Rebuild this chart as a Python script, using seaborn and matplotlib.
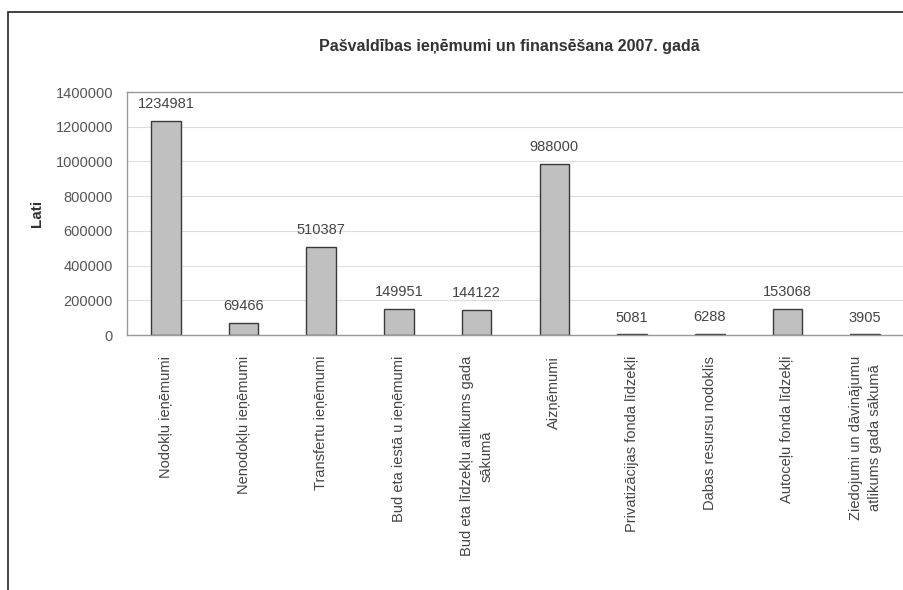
import matplotlib
matplotlib.use("Agg")
import matplotlib.pyplot as plt
import seaborn as sns
import pandas as pd
from matplotlib.patches import Rectangle
from matplotlib.ticker import FuncFormatter

categories = [
    "Nodokļu ieņēmumi",
    "Nenodokļu ieņēmumi",
    "Transfertu ieņēmumi",
    "Bud eta iestā u ieņēmumi",
    "Bud eta līdzekļu atlikums gada\nsākumā",
    "Aizņēmumi",
    "Privatizācijas fonda līdzekļi",
    "Dabas resursu nodoklis",
    "Autoceļu fonda līdzekļi",
    "Ziedojumi un dāvinājumu\natlikums gada sākumā",
]
values = [1234981, 69466, 510387, 149951, 144122, 988000, 5081, 6288, 153068, 3905]
y_ticks = [0, 200000, 400000, 600000, 800000, 1000000, 1200000, 1400000]

sns.set_style("white")
plt.rcParams['font.family'] = ['Liberation Sans', 'DejaVu Sans']

df = pd.DataFrame({'category': categories, 'value': values})

fig = plt.figure(figsize=(9.04, 5.90), dpi=100)
ax = fig.add_axes([0.1405, 0.432, 0.8595, 0.412])

sns.barplot(data=df, x='category', y='value', color='#c0c0c0',
            edgecolor='#3a3a3a', linewidth=1.0, width=0.38,
            saturation=1, ax=ax)

ax.set_xlim(-0.5, len(categories) - 0.5)
ax.set_ylim(0, 1400000)
ax.set_yticks(y_ticks)
ax.yaxis.set_major_formatter(FuncFormatter(lambda v, p: f"{int(v)}"))
ax.grid(axis='y', color='#dddddd', linewidth=0.8)
ax.set_axisbelow(True)

for side in ['top', 'left', 'bottom']:
    ax.spines[side].set_color('#999999')
    ax.spines[side].set_linewidth(1.0)
ax.spines['right'].set_visible(False)

ax.tick_params(axis='y', labelsize=10.5, colors='#555555', length=0, pad=10)
ax.tick_params(axis='x', labelsize=10.5, colors='#444444', length=0, pad=15)
plt.setp(ax.get_xticklabels(), rotation=90, ha='center', va='top',
         multialignment='center', linespacing=1.45)

for i, v in enumerate(values):
    ax.annotate(f"{v}", (i, v), xytext=(0, 7), textcoords='offset points',
                ha='center', va='bottom', fontsize=10.5, color='#444444')

ax.set_xlabel('')
ax.set_ylabel('Lati', fontsize=11, fontweight='bold', color='#333333', labelpad=8)
fig.text(0.564, 0.922, 'Pašvaldības ieņēmumi un finansēšana 2007. gadā',
         ha='center', va='center', fontsize=11.5, fontweight='bold', color='#333333')

# outer chart frame (left and top edges visible)
fig.patches.append(Rectangle((8 / 904, -0.05), 1.0, 1 - 12 / 590 + 0.05,
                             transform=fig.transFigure, fill=False,
                             edgecolor='#222222', linewidth=1.2))

fig.savefig('out.png', dpi=100)
